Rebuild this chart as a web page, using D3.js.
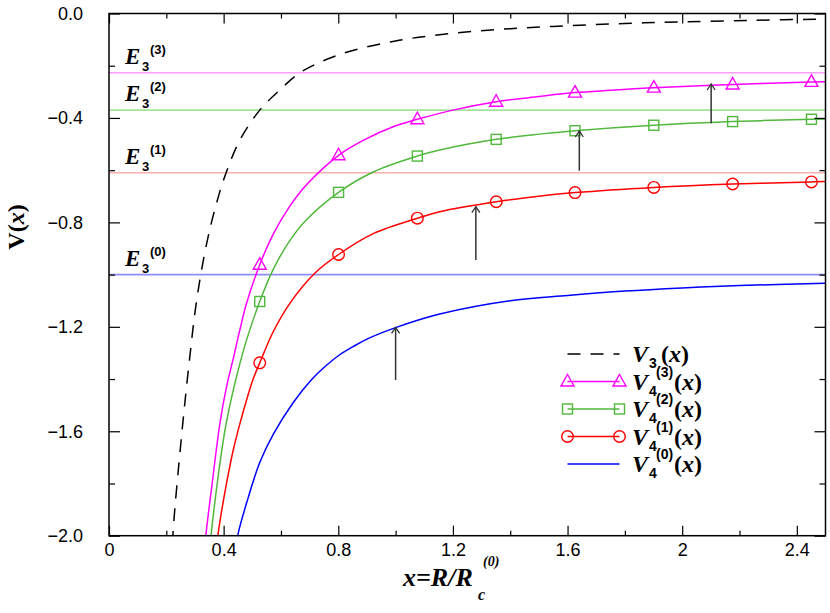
<!DOCTYPE html>
<html><head><meta charset="utf-8">
<script src="https://cdn.jsdelivr.net/npm/d3@7"></script>
<style>body{margin:0;background:#fff}svg{display:block}</style>
</head><body>
<svg id="chart" width="830" height="613"></svg>
<script>
// ---------- data ----------
const xMajorTicks = [0, 0.4, 0.8, 1.2, 1.6, 2.0, 2.4];
const xTickLabels = ["0", "0.4", "0.8", "1.2", "1.6", "2", "2.4"];
const xMinorTicks = [0.2, 0.6, 1.0, 1.4, 1.8, 2.2];
const yMajorTicks = [0, -0.4, -0.8, -1.2, -1.6, -2.0];
const yTickLabels = ["0.0", "\u22120.4", "\u22120.8", "\u22121.2", "\u22121.6", "\u22122.0"];
const yMinorTicks = [-0.2, -0.6, -1.0, -1.4, -1.8];

const levelValues = [-0.227, -0.370, -0.610, -1.0];
const levelNames = ["(3)", "(2)", "(1)", "(0)"];

const v3 = [[0.218,-2.12],[0.224,-1.978],[0.253,-1.62],[0.282,-1.314],[0.306,-1.097],[0.34,-0.885],
  [0.375,-0.727],[0.408,-0.612],[0.457,-0.484],[0.526,-0.37],[0.596,-0.293],[0.666,-0.227],[0.8,-0.159],
  [1.0,-0.105],[1.2,-0.076],[1.4,-0.058],[1.6,-0.047],[1.8,-0.038],[2.0,-0.032],[2.25,-0.026],[2.5,-0.021]];

const v43 = [[0.333,-2.08],[0.338,-2.0],[0.36,-1.80],[0.387,-1.57],[0.41,-1.43],[0.434,-1.32],[0.457,-1.21],
  [0.48,-1.11],[0.526,-0.962],[0.573,-0.845],[0.631,-0.738],[0.689,-0.656],[0.801,-0.543],[0.887,-0.486],
  [1.0,-0.43],[1.076,-0.405],[1.2,-0.37],[1.351,-0.338],[1.5,-0.318],[1.626,-0.303],[1.75,-0.294],
  [1.901,-0.284],[2.176,-0.272],[2.451,-0.262],[2.5,-0.261]];

const v42 = [[0.351,-2.06],[0.356,-2.0],[0.38,-1.78],[0.404,-1.6],[0.43,-1.46],[0.457,-1.34],[0.48,-1.25],
  [0.526,-1.103],[0.573,-0.98],[0.631,-0.87],[0.689,-0.79],[0.801,-0.685],[0.922,-0.607],[1.076,-0.546],
  [1.154,-0.523],[1.351,-0.482],[1.5,-0.462],[1.626,-0.449],[1.901,-0.428],[2.176,-0.414],[2.451,-0.405],[2.5,-0.404]];

const v41 = [[0.376,-2.04],[0.381,-1.99],[0.41,-1.80],[0.434,-1.67],[0.457,-1.57],[0.48,-1.48],[0.503,-1.40],
  [0.526,-1.338],[0.573,-1.219],[0.631,-1.11],[0.718,-0.995],[0.801,-0.923],[0.922,-0.843],[1.076,-0.784],
  [1.154,-0.759],[1.351,-0.721],[1.5,-0.70],[1.626,-0.686],[1.901,-0.666],[2.176,-0.653],[2.451,-0.645],[2.5,-0.643]];

const v40 = [[0.44,-2.06],[0.451,-1.99],[0.48,-1.875],[0.526,-1.72],[0.573,-1.612],[0.643,-1.49],[0.707,-1.402],
  [0.75,-1.356],[0.805,-1.307],[0.85,-1.277],[0.9,-1.247],[1.0,-1.203],[1.154,-1.151],[1.4,-1.10],[1.6,-1.08],
  [1.8,-1.063],[2.0,-1.051],[2.2,-1.042],[2.5,-1.033]];

const markerX = [0.526, 0.801, 1.076, 1.351, 1.626, 1.901, 2.176, 2.451];
const markerV43 = [-0.962, -0.543, -0.405, -0.338, -0.303, -0.284, -0.272, -0.262];
const markerV42 = [-1.103, -0.685, -0.546, -0.482, -0.449, -0.428, -0.414, -0.405];
const markerV41 = [-1.338, -0.923, -0.784, -0.721, -0.686, -0.666, -0.653, -0.645];

const arrowX = [1.0, 1.28, 1.641, 2.101];
const arrowFrom = [-1.404, -0.944, -0.602, -0.420];
const arrowTo = [-1.202, -0.740, -0.450, -0.270];

// ---------- setup ----------
const svg = d3.select("#chart");
const L = 109, R = 825.5, T = 13.5, B = 535.7;
const x = d3.scaleLinear().domain([0, 2.5]).range([L, R]);
const y = d3.scaleLinear().domain([-2, 0]).range([B, T]);

const col = {mag: "#ff00ff", grn: "#50b83c", red: "#ff0000", blu: "#0000ff"};
const levelColors = ["#ff9cff", "#a6e29a", "#ffb0b0", "#8c8cff"];
const serif = "'Liberation Serif','Times New Roman',serif";
const sans = "'Liberation Sans',Arial,Helvetica,sans-serif";

svg.append("defs").append("clipPath").attr("id", "clip")
  .append("rect").attr("x", L).attr("y", T).attr("width", R - L).attr("height", B - T);
const plot = svg.append("g").attr("clip-path", "url(#clip)");

// level lines
plot.selectAll("line.level").data(levelValues).enter().append("line")
  .attr("x1", L).attr("x2", R)
  .attr("y1", d => y(d)).attr("y2", d => y(d))
  .attr("stroke", (d, i) => levelColors[i]).attr("stroke-width", 1.6);

const line = d3.line().x(d => x(d[0])).y(d => y(d[1])).curve(d3.curveCatmullRom.alpha(0.5));

plot.append("path").datum(v3).attr("d", line).attr("fill", "none")
  .attr("stroke", "#000").attr("stroke-width", 1.5).attr("stroke-dasharray", "13,10");
[[v43, col.mag], [v42, col.grn], [v41, col.red], [v40, col.blu]].forEach(([d, c]) => {
  plot.append("path").datum(d).attr("d", line).attr("fill", "none")
    .attr("stroke", c).attr("stroke-width", 1.5);
});

// markers
function triangle(g, cx, cy, c) {
  g.append("path").attr("d", `M${cx},${cy - 7}L${cx + 6.5},${cy + 4.5}L${cx - 6.5},${cy + 4.5}Z`)
    .attr("fill", "none").attr("stroke", c).attr("stroke-width", 1.4);
}
function square(g, cx, cy, c) {
  g.append("rect").attr("x", cx - 5).attr("y", cy - 5).attr("width", 10).attr("height", 10)
    .attr("fill", "none").attr("stroke", c).attr("stroke-width", 1.4);
}
function circle(g, cx, cy, c) {
  g.append("circle").attr("cx", cx).attr("cy", cy).attr("r", 5.8)
    .attr("fill", "none").attr("stroke", c).attr("stroke-width", 1.4);
}
markerX.forEach((mx, i) => {
  triangle(plot, x(mx), y(markerV43[i]), col.mag);
  square(plot, x(mx), y(markerV42[i]), col.grn);
  circle(plot, x(mx), y(markerV41[i]), col.red);
});

// arrows
arrowX.forEach((ax, i) => {
  const px = x(ax), y0 = y(arrowFrom[i]), y1 = y(arrowTo[i]);
  plot.append("line").attr("x1", px).attr("x2", px).attr("y1", y0).attr("y2", y1)
    .attr("stroke", "#333").attr("stroke-width", 1.5);
  plot.append("path").attr("d", `M${px - 4},${y1 + 6}L${px},${y1}L${px + 4},${y1 + 6}`)
    .attr("fill", "none").attr("stroke", "#333").attr("stroke-width", 1.3);
});

// ---------- axes ----------
function styleAxis(g) {
  g.select(".domain").remove();
  g.selectAll(".tick line").attr("stroke", "#000").attr("stroke-width", 1.2);
}
const xb = svg.append("g").attr("transform", `translate(0,${B})`)
  .call(d3.axisBottom(x).tickValues(xMajorTicks).tickSize(-10).tickPadding(8)
    .tickFormat((d, i) => xTickLabels[i]));
styleAxis(xb);
xb.selectAll("text").attr("font-family", sans).attr("font-size", 18).attr("fill", "#000");
svg.append("g").attr("transform", `translate(0,${B})`)
  .call(d3.axisBottom(x).tickValues(xMinorTicks).tickSize(-5).tickFormat("")).call(styleAxis);
svg.append("g").attr("transform", `translate(0,${T})`)
  .call(d3.axisTop(x).tickValues(xMajorTicks).tickSize(-10).tickFormat("")).call(styleAxis);
svg.append("g").attr("transform", `translate(0,${T})`)
  .call(d3.axisTop(x).tickValues(xMinorTicks).tickSize(-5).tickFormat("")).call(styleAxis);

const yl = svg.append("g").attr("transform", `translate(${L},0)`)
  .call(d3.axisLeft(y).tickValues(yMajorTicks).tickSize(-11).tickPadding(26)
    .tickFormat((d, i) => yTickLabels[i]));
styleAxis(yl);
yl.selectAll("text").attr("font-family", sans).attr("font-size", 18).attr("fill", "#000");
svg.append("g").attr("transform", `translate(${L},0)`)
  .call(d3.axisLeft(y).tickValues(yMinorTicks).tickSize(-6).tickFormat("")).call(styleAxis);
svg.append("g").attr("transform", `translate(${R},0)`)
  .call(d3.axisRight(y).tickValues(yMajorTicks).tickSize(-11).tickFormat("")).call(styleAxis);
svg.append("g").attr("transform", `translate(${R},0)`)
  .call(d3.axisRight(y).tickValues(yMinorTicks).tickSize(-6).tickFormat("")).call(styleAxis);

svg.append("rect").attr("x", L).attr("y", T).attr("width", R - L).attr("height", B - T)
  .attr("fill", "none").attr("stroke", "#000").attr("stroke-width", 1.5);

// ---------- level labels ----------
levelValues.forEach((v, i) => {
  const ly = y(v);
  const g = svg.append("g");
  g.append("text").attr("x", 125).attr("y", ly - 9).text("E")
    .attr("font-family", serif).attr("font-weight", "bold").attr("font-style", "italic").attr("font-size", 23);
  g.append("text").attr("x", 142).attr("y", ly - 2).text("3")
    .attr("font-family", sans).attr("font-weight", "bold").attr("font-size", 13);
  g.append("text").attr("x", 150).attr("y", ly - 19).text(levelNames[i])
    .attr("font-family", sans).attr("font-weight", "bold").attr("font-size", 13);
});

// ---------- axis titles ----------
svg.append("text").attr("x", 403).attr("y", 586).text("x=R/R")
  .attr("font-family", serif).attr("font-weight", "bold").attr("font-style", "italic").attr("font-size", 26);
svg.append("text").attr("x", 478).attr("y", 600).text("c")
  .attr("font-family", serif).attr("font-weight", "bold").attr("font-style", "italic").attr("font-size", 16);
svg.append("text").attr("x", 483).attr("y", 566).text("(0)")
  .attr("font-family", serif).attr("font-weight", "bold").attr("font-style", "italic").attr("font-size", 14);

const yt = svg.append("text").attr("transform", "translate(24,227) rotate(-90)")
  .attr("text-anchor", "middle").attr("font-family", serif).attr("font-weight", "bold").attr("font-size", 24);
yt.append("tspan").text("V(");
yt.append("tspan").attr("font-style", "italic").text("x");
yt.append("tspan").text(")");

// ---------- legend ----------
const legendRows = [
  {type: "dash", c: "#000", sub: "3", sup: null},
  {type: "tri", c: col.mag, sub: "4", sup: "(3)"},
  {type: "sq", c: col.grn, sub: "4", sup: "(2)"},
  {type: "circ", c: col.red, sub: "4", sup: "(1)"},
  {type: "line", c: col.blu, sub: "4", sup: "(0)"}
];
const legY = [354, 381.5, 409, 436.5, 464];
const lx0 = 567.5, lx1 = 619.5;
legendRows.forEach((r, i) => {
  const ly = legY[i];
  const ln = svg.append("line").attr("x1", lx0).attr("x2", lx1).attr("y1", ly).attr("y2", ly)
    .attr("stroke", r.c).attr("stroke-width", 1.5);
  if (r.type === "dash") ln.attr("stroke-dasharray", "13,10");
  if (r.type === "tri") { triangle(svg, lx0, ly, r.c); triangle(svg, lx1, ly, r.c); }
  if (r.type === "sq") { square(svg, lx0, ly, r.c); square(svg, lx1, ly, r.c); }
  if (r.type === "circ") { circle(svg, lx0, ly, r.c); circle(svg, lx1, ly, r.c); }
  svg.append("text").attr("x", 632).attr("y", ly + 8).text("V")
    .attr("font-family", serif).attr("font-weight", "bold").attr("font-style", "italic").attr("font-size", 24);
  svg.append("text").attr("x", 649).attr("y", ly + 14).text(r.sub)
    .attr("font-family", sans).attr("font-weight", "bold").attr("font-size", 14);
  let px = 661;
  if (r.sup) {
    svg.append("text").attr("x", 656).attr("y", ly - 5).text(r.sup)
      .attr("font-family", sans).attr("font-weight", "bold").attr("font-size", 14);
    px = 674;
  }
  const t = svg.append("text").attr("x", px).attr("y", ly + 8)
    .attr("font-family", serif).attr("font-weight", "bold").attr("font-size", 24);
  t.append("tspan").text("(");
  t.append("tspan").attr("font-style", "italic").text("x");
  t.append("tspan").text(")");
});
</script>
</body></html>
